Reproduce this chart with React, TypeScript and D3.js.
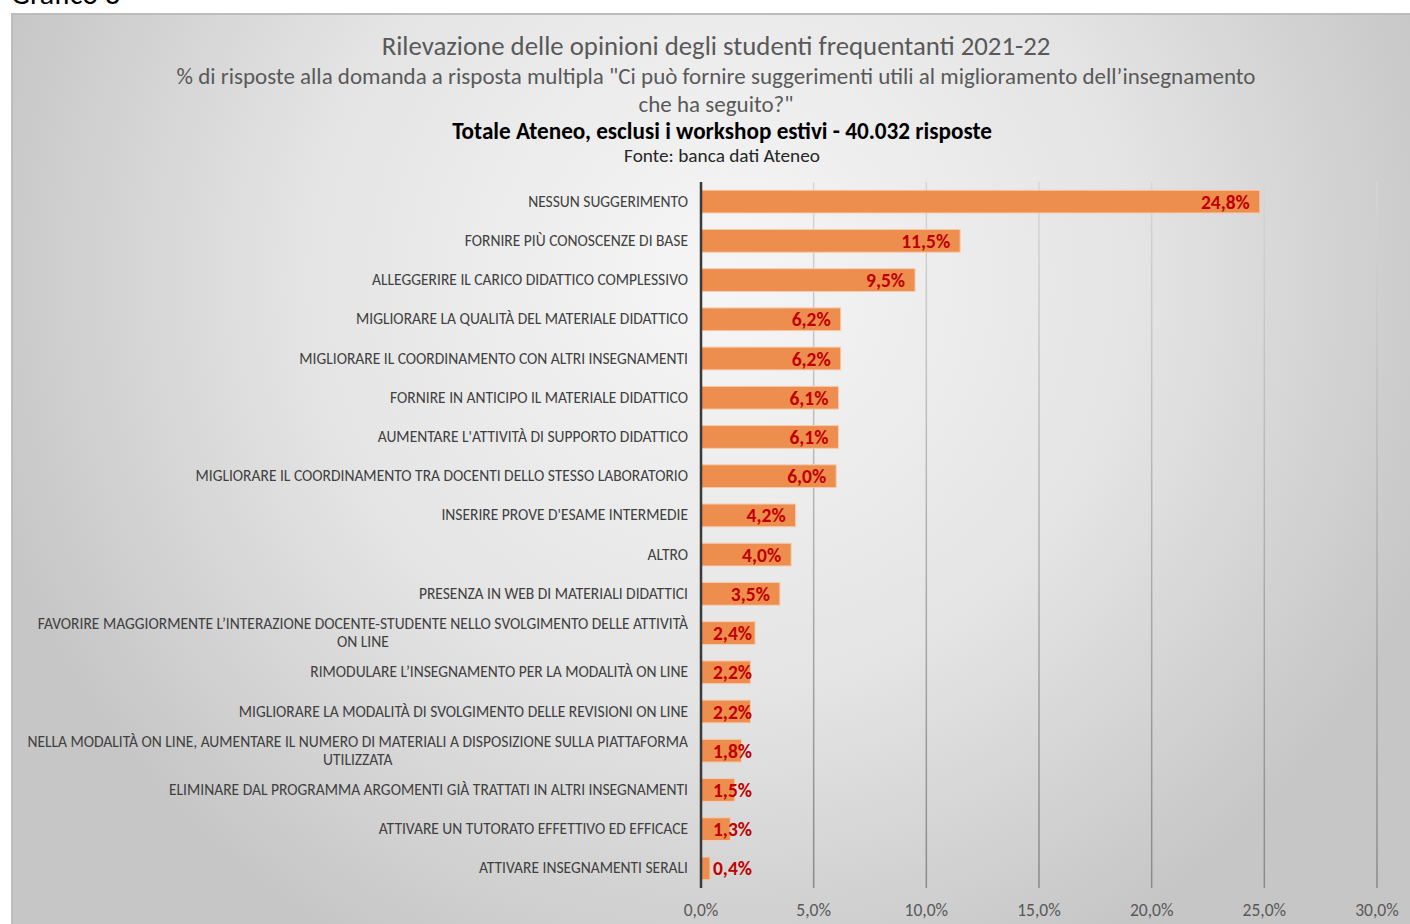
import React from 'react';
import * as d3 from 'd3';

const categories = [
  'NESSUN SUGGERIMENTO',
  'FORNIRE PIÙ CONOSCENZE DI BASE',
  'ALLEGGERIRE IL CARICO DIDATTICO COMPLESSIVO',
  'MIGLIORARE LA QUALITÀ DEL MATERIALE DIDATTICO',
  'MIGLIORARE IL COORDINAMENTO CON ALTRI INSEGNAMENTI',
  'FORNIRE IN ANTICIPO IL MATERIALE DIDATTICO',
  "AUMENTARE L'ATTIVITÀ DI SUPPORTO DIDATTICO",
  'MIGLIORARE IL COORDINAMENTO TRA DOCENTI  DELLO STESSO LABORATORIO',
  "INSERIRE PROVE D'ESAME INTERMEDIE",
  'ALTRO',
  'PRESENZA IN WEB DI MATERIALI DIDATTICI',
  'FAVORIRE MAGGIORMENTE L’INTERAZIONE DOCENTE-STUDENTE NELLO SVOLGIMENTO DELLE ATTIVITÀ|ON LINE',
  'RIMODULARE L’INSEGNAMENTO PER LA MODALITÀ ON LINE',
  'MIGLIORARE LA MODALITÀ DI SVOLGIMENTO DELLE REVISIONI ON LINE',
  'NELLA MODALITÀ ON LINE, AUMENTARE IL NUMERO DI MATERIALI A DISPOSIZIONE SULLA PIATTAFORMA|UTILIZZATA',
  'ELIMINARE DAL PROGRAMMA ARGOMENTI GIÀ TRATTATI IN ALTRI INSEGNAMENTI',
  'ATTIVARE UN TUTORATO EFFETTIVO ED EFFICACE',
  'ATTIVARE INSEGNAMENTI SERALI',
];
const values = [24.8, 11.5, 9.5, 6.2, 6.2, 6.1, 6.1, 6.0, 4.2, 4.0, 3.5, 2.4, 2.2, 2.2, 1.8, 1.5, 1.3, 0.4];
const ticks = [0, 5, 10, 15, 20, 25, 30];

const titleLines = [
  'Rilevazione delle opinioni degli studenti frequentanti 2021-22',
  '% di risposte alla domanda a risposta multipla "Ci può fornire suggerimenti utili al miglioramento dell’insegnamento',
  'che ha seguito?"',
];
const boldLine = 'Totale Ateneo, esclusi i workshop estivi - 40.032 risposte';
const sourceLine = 'Fonte: banca dati Ateneo';

const W = 1410, H = 924;
const font = 'Carlito, Calibri, "Open Sans", sans-serif';
const labelSize = 15.5;

const fmt = (v: number) => v.toFixed(1).replace('.', ',') + '%';

// misura la larghezza di una riga per centrare la seconda riga sotto la prima
let ctx: CanvasRenderingContext2D | null = null;
function textWidth(s: string) {
  if (!ctx) ctx = document.createElement('canvas').getContext('2d');
  if (!ctx) return s.length * 7.5;
  ctx.font = `${labelSize}px ${font}`;
  return ctx.measureText(s).width;
}

export default function App() {
  const x = d3.scaleLinear().domain([0, 30]).range([701, 1377]);
  const y = d3.scaleBand<number>().domain(d3.range(categories.length)).range([182, 888]).paddingInner(0.42).paddingOuter(0.21);
  const bh = y.bandwidth();

  return (
    <svg width={W} height={H} style={{ position: 'absolute', left: 0, top: 0 }}>
      <defs>
        <radialGradient id="bg" gradientUnits="userSpaceOnUse" cx={720} cy={280} r={760}>
          <stop offset="0" stopColor="#f6f6f6" />
          <stop offset="0.55" stopColor="#e4e4e4" />
          <stop offset="1" stopColor="#c6c6c6" />
        </radialGradient>
        <linearGradient id="grid" gradientUnits="userSpaceOnUse" x1={0} y1={182} x2={0} y2={888}>
          <stop offset="0" stopColor="#d6d6d6" />
          <stop offset="1" stopColor="#8a8a8a" />
        </linearGradient>
      </defs>
      <rect width={W} height={H} fill="#ffffff" />
      <text x={11} y={4} fontFamily={font} fontSize={30} fill="#000">Grafico 8</text>
      <rect x={12} y={14} width={W} height={H} fill="url(#bg)" stroke="#bdbdbd" strokeWidth={2} />

      <g fontFamily={font} textAnchor="middle" fill="#595959">
        <text x={716} y={55} fontSize={26.8}>{titleLines[0]}</text>
        <text x={716} y={84} fontSize={23}>{titleLines[1]}</text>
        <text x={716} y={112} fontSize={23}>{titleLines[2]}</text>
        <text x={722} y={139} fontSize={23.2} fontWeight="bold" fill="#000">{boldLine}</text>
        <text x={722} y={162} fontSize={19.3} fill="#262626">{sourceLine}</text>
      </g>

      {ticks.slice(1).map(t => (
        <line key={t} x1={x(t)} x2={x(t)} y1={182} y2={888} stroke="url(#grid)" strokeWidth={1.5} />
      ))}

      {values.map((v, i) => (
        <rect key={i} x={x(0)} y={y(i)!} width={x(v) - x(0)} height={bh}
          fill="#ed8d4e" stroke="#f8cbad" strokeWidth={1} />
      ))}

      <line x1={x(0)} x2={x(0)} y1={182} y2={888} stroke="#3a3a3a" strokeWidth={2.5} />

      <g fontFamily={font} fontWeight="bold" fontSize={19.5} fill="#c00000" textAnchor="end">
        {values.map((v, i) => (
          <text key={i} x={Math.max(x(v) - 10, 752)} y={y(i)! + bh / 2 + 7}>{fmt(v)}</text>
        ))}
      </g>

      <g fontFamily={font} fontSize={labelSize} fill="#404040" textAnchor="end">
        {categories.map((c, i) => {
          const lines = c.split('|');
          const cy = y(i)! + bh / 2;
          if (lines.length === 1) {
            return <text key={i} x={688} y={cy + 5}>{c}</text>;
          }
          return (
            <g key={i}>
              <text x={688} y={cy - 4}>{lines[0]}</text>
              <text x={688 - textWidth(lines[0]) / 2} y={cy + 14} textAnchor="middle">{lines[1]}</text>
            </g>
          );
        })}
      </g>

      <g fontFamily={font} fontSize={17.5} fill="#595959" textAnchor="middle">
        {ticks.map(t => (
          <text key={t} x={x(t)} y={916}>{fmt(t)}</text>
        ))}
      </g>
    </svg>
  );
}
